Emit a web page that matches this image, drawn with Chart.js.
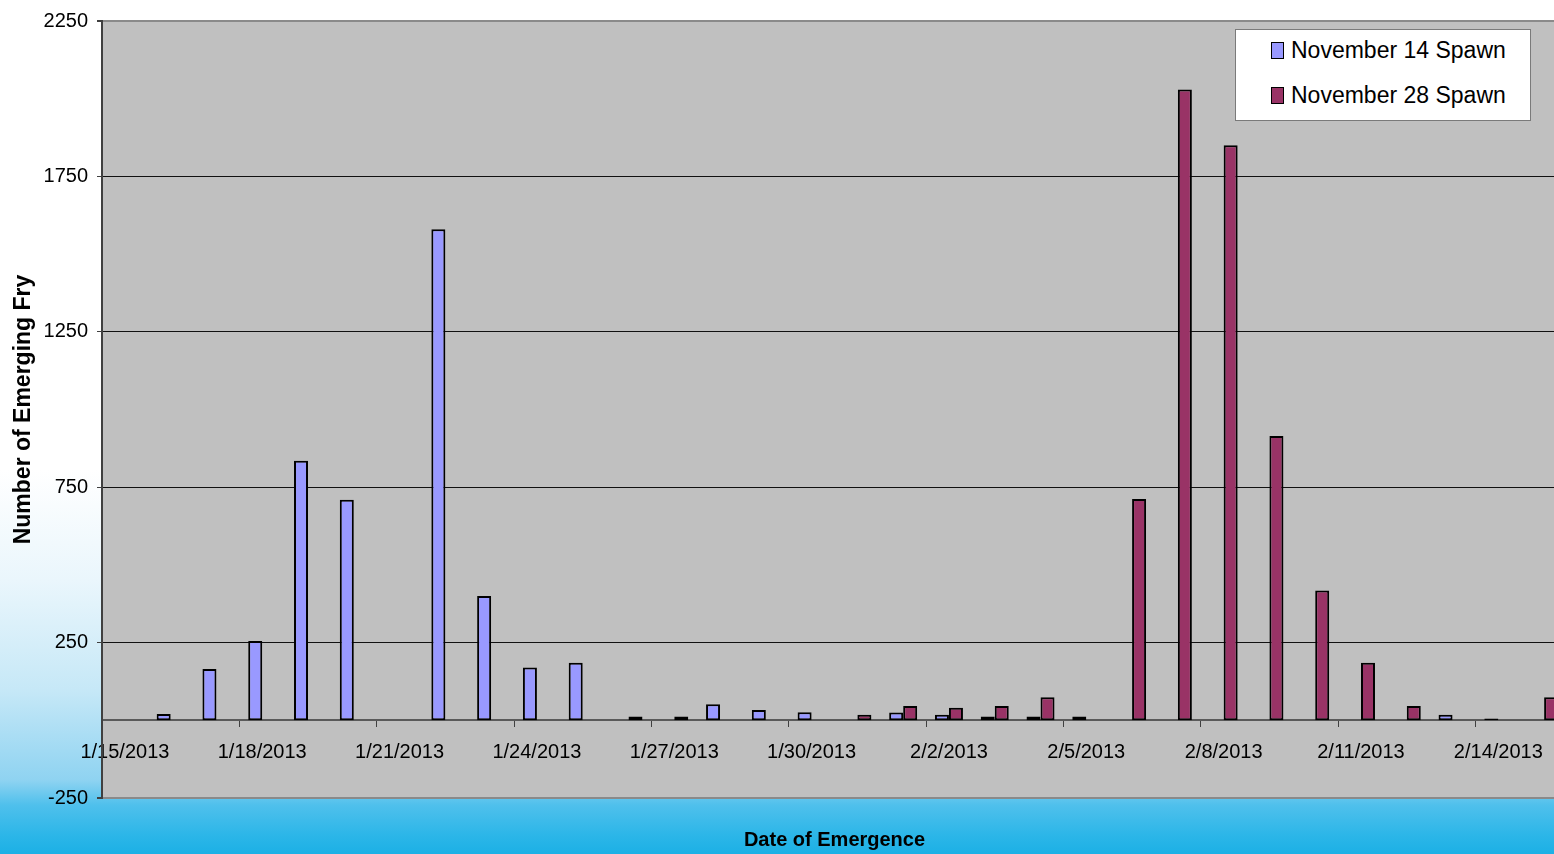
<!DOCTYPE html>
<html>
<head>
<meta charset="utf-8">
<script src="https://cdn.jsdelivr.net/npm/chart.js@4/dist/chart.umd.min.js"></script>
<style>
  html, body { margin: 0; padding: 0; }
  body {
    width: 1554px; height: 854px; overflow: hidden; position: relative;
    background: linear-gradient(to bottom, #ffffff 0px, #ffffff 470px, #eaf6fc 580px, #c6e8f7 690px, #8fd3f1 780px, #4fc0ec 805px, #2cb6e8 835px, #1cb0e5 854px);
    font-family: 'Liberation Sans', Arial, sans-serif;
  }
  #wrap { position: absolute; left: 0; top: 0; width: 1554px; height: 854px; overflow: hidden; }
  #legend {
    position: absolute; left: 1235px; top: 29px; width: 296px; height: 92px;
    background: #ffffff; border: 1px solid #7a7a7a; box-sizing: border-box;
  }
  .item { position: absolute; left: 35px; height: 24px; display: flex; align-items: center; }
  .sw { width: 11px; height: 15px; border: 1.5px solid #000; margin-right: 7px; }
  .txt { font-size: 23px; color: #000; white-space: nowrap; line-height: 24px; }
</style>
</head>
<body>
<div id="wrap">
  <canvas id="c" width="1570" height="854"></canvas>
  <div id="legend"></div>
</div>
<script>
const dates = ['1/15/2013','1/16/2013','1/17/2013','1/18/2013','1/19/2013','1/20/2013','1/21/2013','1/22/2013',
  '1/23/2013','1/24/2013','1/25/2013','1/26/2013','1/27/2013','1/28/2013','1/29/2013','1/30/2013','1/31/2013',
  '2/1/2013','2/2/2013','2/3/2013','2/4/2013','2/5/2013','2/6/2013','2/7/2013','2/8/2013','2/9/2013','2/10/2013',
  '2/11/2013','2/12/2013','2/13/2013','2/14/2013','2/15/2013'];
const nov14Spawn = [null,20,165,255,835,710,null,1580,400,170,185,null,null,52,33,26,null,
  25,18,12,12,12,null,null,null,null,null,null,null,18,6,null];
const nov28Spawn = [null,null,null,null,null,null,null,null,null,null,null,12,12,null,null,null,18,
  46,40,46,74,null,712,2030,1850,915,418,185,46,null,null,74];
const seriesNames = ['November 14 Spawn','November 28 Spawn'];
const seriesColors = ['#9999FF','#993366'];
const yTicks = [-250,250,750,1250,1750,2250];
const xTitle = 'Date of Emergence';
const yTitle = 'Number of Emerging Fry';

const plotBg = {
  id: 'plotBg',
  beforeDraw(chart) {
    const {ctx, chartArea: a} = chart;
    ctx.save();
    ctx.fillStyle = '#C0C0C0';
    ctx.fillRect(a.left, a.top, a.right - a.left, a.bottom - a.top);
    ctx.restore();
  }
};

const FONT = "'Liberation Sans', Arial, sans-serif";

const chart = new Chart(document.getElementById('c'), {
  type: 'bar',
  data: {
    labels: dates,
    datasets: [
      { label: seriesNames[0], data: nov14Spawn, backgroundColor: seriesColors[0], borderColor: '#000', borderWidth: 2, borderSkipped: false },
      { label: seriesNames[1], data: nov28Spawn, backgroundColor: seriesColors[1], borderColor: '#000', borderWidth: 2, borderSkipped: false }
    ]
  },
  options: {
    responsive: false,
    animation: false,
    devicePixelRatio: 1,
    categoryPercentage: 0.612,
    barPercentage: 1.0,
    layout: { padding: { top: 20, right: 3, left: 0, bottom: 0 } },
    plugins: {
      legend: { display: false },
      tooltip: { enabled: false },
      title: {
        display: true, text: xTitle, position: 'bottom', fullSize: false,
        color: '#000', font: { family: FONT, size: 20, weight: 'bold' },
        padding: { top: 30, bottom: 2 }
      }
    },
    scales: {
      x: {
        type: 'category',
        position: { y: 0 },
        offset: true,
        grid: {
          offset: true, drawOnChartArea: false, drawTicks: true, tickLength: 6,
          color: (c) => (c.index % 3 === 0 ? '#404040' : 'rgba(0,0,0,0)'), lineWidth: 1
        },
        border: { display: true, color: '#5a5a5a', width: 2 },
        ticks: {
          autoSkip: false, maxRotation: 0, minRotation: 0, padding: 14,
          color: '#000', font: { family: FONT, size: 20 },
          callback: function(v, i) { return i % 3 === 0 ? dates[i] : ''; }
        }
      },
      y: {
        min: yTicks[0], max: yTicks[yTicks.length - 1],
        afterBuildTicks: (s) => { s.ticks = yTicks.map(v => ({ value: v })); },
        afterFit: (s) => { s.width = 102; },
        grid: {
          color: (c) => (c.tick && (c.tick.value === yTicks[0] || c.tick.value === yTicks[yTicks.length-1]) ? '#8a8a8a' : '#111'),
          lineWidth: (c) => (c.tick && (c.tick.value === yTicks[0] || c.tick.value === yTicks[yTicks.length-1]) ? 2 : 1),
          tickColor: '#404040', tickLength: 5, drawTicks: true
        },
        border: { display: true, color: '#404040', width: 2 },
        ticks: {
          padding: 9, color: '#000', font: { family: FONT, size: 20 },
          callback: (v) => String(v)
        },
        title: {
          display: true, text: yTitle, color: '#000',
          font: { family: FONT, size: 23, weight: 'bold' },
          padding: { top: 10, bottom: 0 }
        }
      }
    }
  },
  plugins: [plotBg]
});

// HTML legend built from the series arrays
const lg = document.getElementById('legend');
seriesNames.forEach((n, i) => {
  const it = document.createElement('div');
  it.className = 'item';
  it.style.top = (8 + i * 45) + 'px';
  it.innerHTML = '<span class="sw" style="background:' + seriesColors[i] + '"></span><span class="txt">' + n + '</span>';
  lg.appendChild(it);
});
</script>
</body>
</html>
